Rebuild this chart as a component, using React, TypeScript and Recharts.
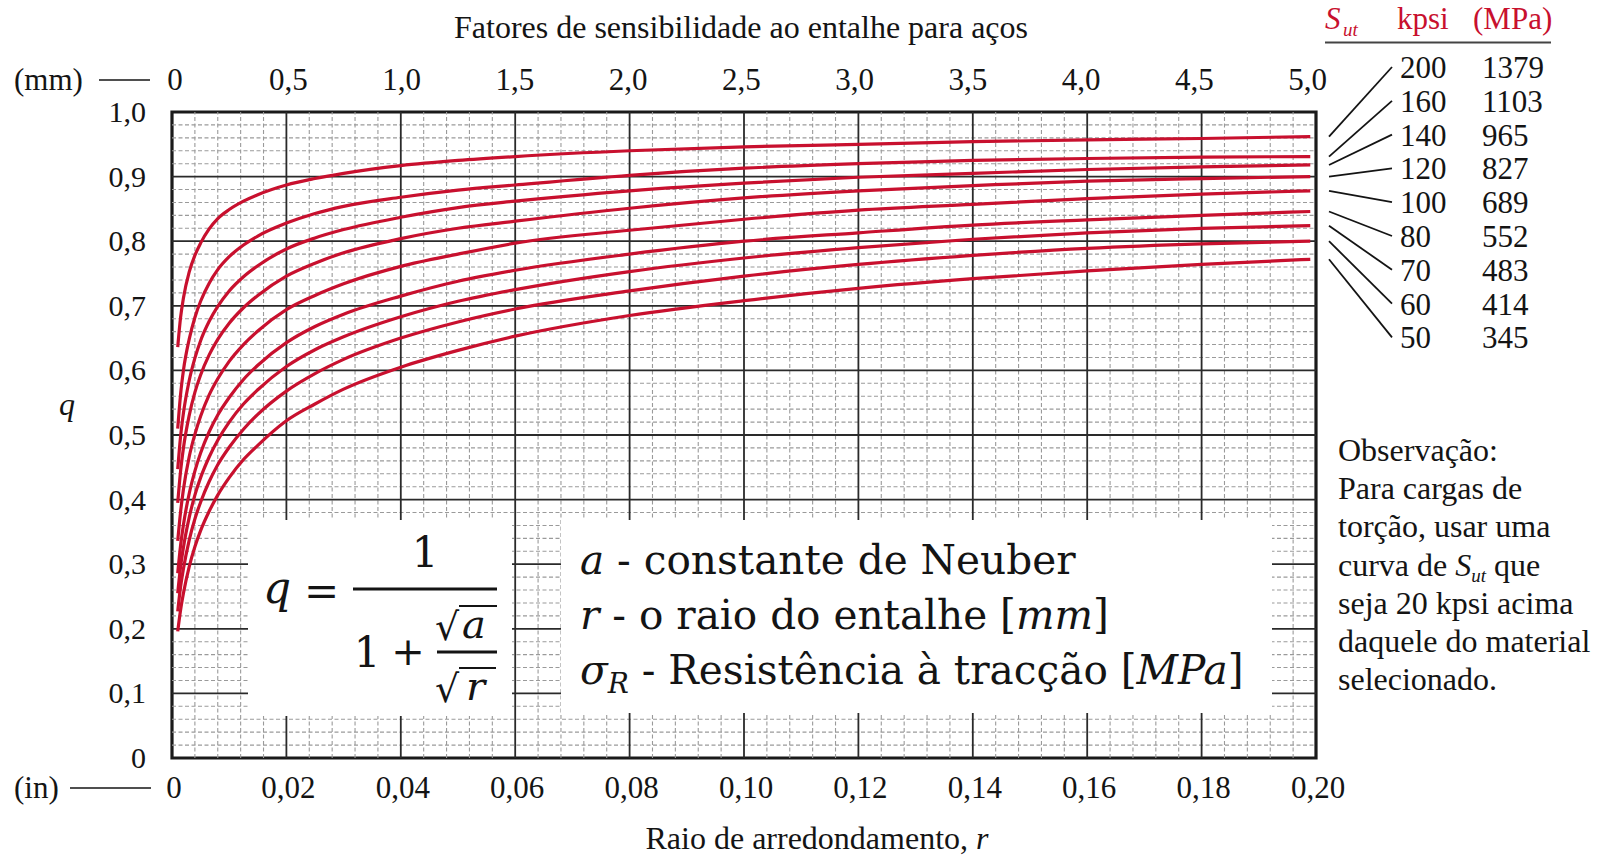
import React from "react";
import { LineChart, Line, XAxis, YAxis, ReferenceLine, ReferenceArea } from "recharts";

// notch radius r (in) where the curves are sampled
const RADIUS_IN = [0.001, 0.0015, 0.002, 0.003, 0.004, 0.005, 0.0065, 0.008, 0.01, 0.0125, 0.015, 0.02, 0.025, 0.03, 0.04, 0.05, 0.06, 0.08, 0.1, 0.12, 0.14, 0.16, 0.18, 0.199];

// notch sensitivity q for each tensile strength
const Q_SUT_200 = [0.636, 0.682, 0.712, 0.752, 0.778, 0.797, 0.819, 0.835, 0.849, 0.862, 0.872, 0.887, 0.897, 0.905, 0.917, 0.925, 0.931, 0.94, 0.946, 0.95, 0.954, 0.957, 0.959, 0.962];
const Q_SUT_160 = [0.51, 0.563, 0.6, 0.648, 0.682, 0.707, 0.735, 0.756, 0.776, 0.794, 0.808, 0.828, 0.843, 0.854, 0.868, 0.879, 0.887, 0.902, 0.913, 0.92, 0.925, 0.928, 0.93, 0.931];
const Q_SUT_140 = [0.447, 0.498, 0.534, 0.584, 0.619, 0.646, 0.676, 0.699, 0.723, 0.745, 0.762, 0.788, 0.805, 0.818, 0.837, 0.852, 0.862, 0.878, 0.89, 0.899, 0.905, 0.911, 0.915, 0.918];
const Q_SUT_120 = [0.395, 0.444, 0.48, 0.53, 0.566, 0.593, 0.624, 0.648, 0.673, 0.697, 0.716, 0.746, 0.766, 0.782, 0.804, 0.82, 0.831, 0.851, 0.867, 0.878, 0.886, 0.893, 0.897, 0.9];
const Q_SUT_100 = [0.336, 0.381, 0.416, 0.466, 0.501, 0.529, 0.562, 0.587, 0.614, 0.64, 0.661, 0.694, 0.716, 0.734, 0.761, 0.78, 0.797, 0.817, 0.834, 0.848, 0.857, 0.866, 0.873, 0.878];
const Q_SUT_80 = [0.286, 0.329, 0.361, 0.409, 0.444, 0.472, 0.505, 0.531, 0.558, 0.586, 0.608, 0.643, 0.668, 0.687, 0.715, 0.738, 0.755, 0.78, 0.8, 0.813, 0.825, 0.833, 0.84, 0.846];
const Q_SUT_70 = [0.255, 0.296, 0.326, 0.372, 0.407, 0.434, 0.466, 0.492, 0.52, 0.548, 0.57, 0.606, 0.632, 0.652, 0.683, 0.707, 0.725, 0.753, 0.774, 0.79, 0.803, 0.813, 0.82, 0.824];
const Q_SUT_60 = [0.227, 0.265, 0.293, 0.337, 0.37, 0.396, 0.428, 0.454, 0.481, 0.509, 0.532, 0.568, 0.595, 0.617, 0.65, 0.675, 0.695, 0.723, 0.746, 0.764, 0.778, 0.789, 0.796, 0.8];
const Q_SUT_50 = [0.196, 0.229, 0.255, 0.296, 0.327, 0.352, 0.382, 0.407, 0.434, 0.462, 0.484, 0.522, 0.548, 0.571, 0.605, 0.631, 0.653, 0.685, 0.708, 0.727, 0.742, 0.754, 0.764, 0.772];

const SUT_KPSI = [200, 160, 140, 120, 100, 80, 70, 60, 50];
const SUT_MPA = [1379, 1103, 965, 827, 689, 552, 483, 414, 345];
const Q_SERIES = [Q_SUT_200, Q_SUT_160, Q_SUT_140, Q_SUT_120, Q_SUT_100, Q_SUT_80, Q_SUT_70, Q_SUT_60, Q_SUT_50];

const INCH_TICKS = [0, 0.02, 0.04, 0.06, 0.08, 0.1, 0.12, 0.14, 0.16, 0.18, 0.2];
const MM_TICKS = [0, 0.5, 1, 1.5, 2, 2.5, 3, 3.5, 4, 4.5, 5];
const Q_TICKS = [0, 0.1, 0.2, 0.3, 0.4, 0.5, 0.6, 0.7, 0.8, 0.9, 1];

const NOTE_LINES = ["Para cargas de", "torção, usar uma", null, "seja 20 kpsi acima", "daquele do material", "selecionado."];

// conversion used by the printed mm scale on top (slightly off 25.4)
const MM_PER_AXIS_INCH = 25.25;

const rows = RADIUS_IN.map((r, i) => {
  const row: Record<string, number> = { r, mm: r * MM_PER_AXIS_INCH };
  SUT_KPSI.forEach((s, k) => {
    row[`s${s}`] = Q_SERIES[k][i];
  });
  return row;
});

// layout
const W = 1604;
const H = 856;
const PLOT_LEFT = 172;
const PLOT_RIGHT = 1316;
const PLOT_TOP = 112;
const PLOT_BOTTOM = 758;

const RED = "#c8102e";
const INK = "#141414";
const SERIF = "'Liberation Serif', 'Times New Roman', serif";
const MATH = "'DejaVu Serif', serif";

// minor grid: 5 divisions between major lines
const minorX = Array.from({ length: 50 }, (_, i) => (i + 1) * 0.004).filter((_, i) => (i + 1) % 5 !== 0);
const minorY = Array.from({ length: 50 }, (_, i) => (i + 1) * 0.02).filter((_, i) => (i + 1) % 5 !== 0);

const comma = (v: number, d: number) => (v === 0 ? "0" : v.toFixed(d).replace(".", ","));

// leader lines start at the level where each curve ends
const qToY = (q: number) => PLOT_BOTTOM - q * (PLOT_BOTTOM - PLOT_TOP);

function InchTick(props: any) {
  return (
    <text x={props.x + 2} y={798} textAnchor="middle" fontFamily={SERIF} fontSize={31} fill={INK}>
      {comma(props.payload.value, 2)}
    </text>
  );
}

function MmTick(props: any) {
  return (
    <text x={props.x + 3} y={90} textAnchor="middle" fontFamily={SERIF} fontSize={31} fill={INK}>
      {comma(props.payload.value, 1)}
    </text>
  );
}

function QTick(props: any) {
  return (
    <text x={146} y={props.y + 10} textAnchor="end" fontFamily={SERIF} fontSize={30} fill={INK}>
      {comma(props.payload.value, 1)}
    </text>
  );
}

function Overlay() {
  const rowY0 = 67;
  const rowStep = 33.8;
  return (
    <svg width={W} height={H} style={{ position: "absolute", left: 0, top: 0, pointerEvents: "none" }}>
      {/* titles and axis captions */}
      <g fontFamily={SERIF} fontSize={32} fill={INK}>
        <text x={741} y={38} textAnchor="middle">Fatores de sensibilidade ao entalhe para aços</text>
        <text x={817} y={849} textAnchor="middle">
          Raio de arredondamento, <tspan fontStyle="italic">r</tspan>
        </text>
        <text x={67} y={415} textAnchor="middle" fontStyle="italic">q</text>
      </g>
      <g fontFamily={SERIF} fontSize={31} fill={INK}>
        <text x={14} y={90}>(mm)</text>
        <text x={14} y={798}>(in)</text>
      </g>
      <line x1={99} x2={150} y1={80} y2={80} stroke={INK} strokeWidth={1.6} />
      <line x1={70} x2={151} y1={788} y2={788} stroke={INK} strokeWidth={1.6} />

      {/* strength legend */}
      <g fontFamily={SERIF} fontSize={31} fill={RED}>
        <text x={1325} y={29} fontStyle="italic">S</text>
        <text x={1343} y={36} fontStyle="italic" fontSize={19}>ut</text>
        <text x={1397} y={29}>kpsi</text>
        <text x={1473} y={29}>(MPa)</text>
      </g>
      <line x1={1325} x2={1551} y1={42.5} y2={42.5} stroke="#444" strokeWidth={2} />
      <g fontFamily={SERIF} fontSize={31} fill={INK}>
        {SUT_KPSI.map((s, i) => (
          <React.Fragment key={s}>
            <text x={1400} y={rowY0 + i * rowStep + 11}>{s}</text>
            <text x={1482} y={rowY0 + i * rowStep + 11}>{SUT_MPA[i]}</text>
            <line
              x1={1329}
              y1={qToY(Q_SERIES[i][Q_SERIES[i].length - 1])}
              x2={1392}
              y2={rowY0 + i * rowStep}
              stroke={INK}
              strokeWidth={1.8}
            />
          </React.Fragment>
        ))}
      </g>

      {/* side note */}
      <g fontFamily={SERIF} fontSize={32} fill={INK}>
        <text x={1338} y={461}>Observação:</text>
        {NOTE_LINES.map((t, i) =>
          t === null ? (
            <text key={i} x={1338} y={461 + (i + 1) * 38.2}>
              curva de <tspan fontStyle="italic">S</tspan>
              <tspan fontStyle="italic" fontSize={19} dy={6}>ut</tspan>
              <tspan dy={-6}> que</tspan>
            </text>
          ) : (
            <text key={i} x={1338} y={461 + (i + 1) * 38.2}>{t}</text>
          )
        )}
      </g>

      {/* Neuber formula */}
      <rect x={248} y={520} width={264} height={196} fill="#fff" />
      <g fontFamily={MATH} fill={INK} fontSize={40}>
        <text x={263} y={603} fontStyle="italic" fontSize={44}>q</text>
        <text x={304} y={606} fontSize={42}>=</text>
        <line x1={353} x2={497} y1={589} y2={589} stroke={INK} strokeWidth={2.8} />
        <text x={425} y={567} textAnchor="middle" fontSize={42}>1</text>
        <text x={367} y={667} textAnchor="middle" fontSize={42}>1</text>
        <text x={408} y={665} textAnchor="middle">+</text>
        <line x1={437} x2={497} y1={652} y2={652} stroke={INK} strokeWidth={2.8} />
        <text x={435} y={640} fontSize={38}>√</text>
        <line x1={459} x2={497} y1={606} y2={606} stroke={INK} strokeWidth={2} />
        <text x={462} y={638} fontStyle="italic">a</text>
        <text x={435} y={702} fontSize={38}>√</text>
        <line x1={459} x2={496} y1={668} y2={668} stroke={INK} strokeWidth={2} />
        <text x={466} y={700} fontStyle="italic">r</text>
      </g>

      {/* symbol definitions */}
      <rect x={561} y={520} width={711} height={193} fill="#fff" />
      <g fontFamily={MATH} fill={INK} fontSize={40.6}>
        <text x={580} y={574}>
          <tspan fontStyle="italic">a</tspan> - constante de Neuber
        </text>
        <text x={580} y={629}>
          <tspan fontStyle="italic">r</tspan> - o raio do entalhe [<tspan fontStyle="italic">mm</tspan>]
        </text>
        <text x={580} y={684}>
          <tspan fontStyle="italic">σ</tspan>
          <tspan fontStyle="italic" fontSize={28} dy={9}>R</tspan>
          <tspan dy={-9}> - Resistência à tracção [</tspan>
          <tspan fontStyle="italic">MPa</tspan>]
        </text>
      </g>
    </svg>
  );
}

export default function App() {
  return (
    <div style={{ position: "absolute", left: 0, top: 0, width: W, height: H, background: "#fff" }}>
      <LineChart width={W} height={H} data={rows} margin={{ top: 0, right: W - PLOT_RIGHT, bottom: 0, left: 0 }}>
        <XAxis
          xAxisId="in"
          dataKey="r"
          type="number"
          domain={[0, 0.2]}
          ticks={INCH_TICKS}
          interval={0}
          height={H - PLOT_BOTTOM}
          axisLine={false}
          tickLine={false}
          tick={InchTick}
        />
        <XAxis
          xAxisId="mm"
          dataKey="mm"
          orientation="top"
          type="number"
          domain={[0, 0.2 * MM_PER_AXIS_INCH]}
          allowDataOverflow
          ticks={MM_TICKS}
          interval={0}
          height={PLOT_TOP}
          axisLine={false}
          tickLine={false}
          tick={MmTick}
        />
        <YAxis
          yAxisId="q"
          type="number"
          domain={[0, 1]}
          ticks={Q_TICKS}
          interval={0}
          width={PLOT_LEFT}
          axisLine={false}
          tickLine={false}
          tick={QTick}
        />
        {minorX.map((v) => (
          <ReferenceLine key={`mx${v}`} xAxisId="in" yAxisId="q" x={v} stroke="#9a9a9a" strokeWidth={1.1} strokeDasharray="4 2.5" />
        ))}
        {minorY.map((v) => (
          <ReferenceLine key={`my${v}`} xAxisId="in" yAxisId="q" y={v} stroke="#9a9a9a" strokeWidth={1.1} strokeDasharray="4 2.5" />
        ))}
        {INCH_TICKS.slice(1, -1).map((v) => (
          <ReferenceLine key={`Mx${v}`} xAxisId="in" yAxisId="q" x={v} stroke="#2a2a2a" strokeWidth={1.8} />
        ))}
        {Q_TICKS.slice(1, -1).map((v) => (
          <ReferenceLine key={`My${v}`} xAxisId="in" yAxisId="q" y={v} stroke="#2a2a2a" strokeWidth={1.8} />
        ))}
        <ReferenceArea xAxisId="in" yAxisId="q" x1={0} x2={0.2} y1={0} y2={1} fill="none" fillOpacity={0} stroke="#1a1a1a" strokeWidth={3.2} />
        {SUT_KPSI.map((s) => (
          <Line
            key={s}
            xAxisId="in"
            yAxisId="q"
            dataKey={`s${s}`}
            type="monotone"
            stroke={RED}
            strokeWidth={3.2}
            dot={false}
            activeDot={false}
            isAnimationActive={false}
          />
        ))}
      </LineChart>
      <Overlay />
    </div>
  );
}
